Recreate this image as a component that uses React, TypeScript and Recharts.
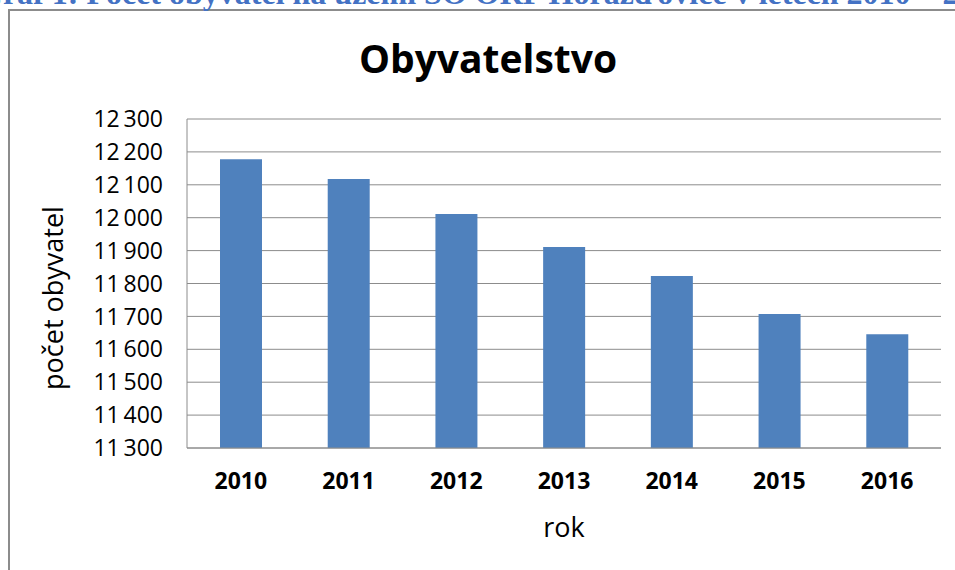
import React from "react";
import { BarChart, Bar, XAxis, YAxis, CartesianGrid } from "recharts";

const years = ["2010", "2011", "2012", "2013", "2014", "2015", "2016"];
const population = [12178, 12118, 12011, 11911, 11823, 11707, 11646];
const yTicks = [11300, 11400, 11500, 11600, 11700, 11800, 11900, 12000, 12100, 12200, 12300];

const chartTitle = "Obyvatelstvo";
const captionText = "Graf 1: Počet obyvatel na území SO ORP Horažďovice v letech 2010 – 2016";
const xLabel = "rok";
const yLabel = "počet obyvatel";

const font = "'Open Sans', sans-serif";
const gray = "#8c8c8c";

const formatThousands = (v: number) =>
  `${Math.floor(v / 1000)}\u2009${String(v % 1000).padStart(3, "0")}`;

export default function App() {
  const data = years.map((year, i) => ({ year, value: population[i] }));

  return (
    <div
      style={{
        position: "absolute",
        left: 0,
        top: 0,
        width: 955,
        height: 570,
        overflow: "hidden",
        background: "#fff",
      }}
    >
      {/* frame around the chart */}
      <div
        style={{
          position: "absolute",
          left: 8,
          top: 9,
          width: 1000,
          height: 620,
          border: `2px solid ${gray}`,
        }}
      />
      <div style={{ position: "absolute", left: 0, top: 0 }}>
        <BarChart
          width={955}
          height={570}
          data={data}
          margin={{ top: 119, right: 14, bottom: 82, left: 87 }}
        >
          <CartesianGrid vertical={false} stroke={gray} />
          <XAxis
            dataKey="year"
            height={40}
            axisLine={{ stroke: gray }}
            tickLine={false}
            tickMargin={19}
            tick={{ fill: "#000", fontFamily: font, fontSize: 23, fontWeight: 700 }}
          />
          <YAxis
            width={100}
            domain={[11300, 12300]}
            ticks={yTicks}
            interval={0}
            allowDataOverflow
            axisLine={{ stroke: gray }}
            tickLine={false}
            tickMargin={18}
            tickFormatter={formatThousands}
            tick={{ fill: "#000", fontFamily: font, fontSize: 23 }}
          />
          <Bar dataKey="value" fill="#4f81bd" barSize={42} isAnimationActive={false} />
        </BarChart>
      </div>
      <svg
        width={955}
        height={570}
        style={{ position: "absolute", left: 0, top: 0, pointerEvents: "none" }}
      >
        {/* caption of the document, cut off by the top edge as in the source */}
        <text
          x={-22}
          y={4}
          fill="#4472c4"
          fontFamily="'Liberation Serif', serif"
          fontWeight={700}
          fontSize={32}
        >
          {captionText}
        </text>
        <text
          x={488}
          y={73}
          textAnchor="middle"
          fontFamily={font}
          fontWeight={700}
          fontSize={39}
          fill="#000"
        >
          {chartTitle}
        </text>
        <text x={564} y={537} textAnchor="middle" fontFamily={font} fontSize={27} fill="#000">
          {xLabel}
        </text>
        <text
          x={63}
          y={298}
          textAnchor="middle"
          transform="rotate(-90, 63, 298)"
          fontFamily={font}
          fontSize={27}
          fill="#000"
        >
          {yLabel}
        </text>
      </svg>
    </div>
  );
}
